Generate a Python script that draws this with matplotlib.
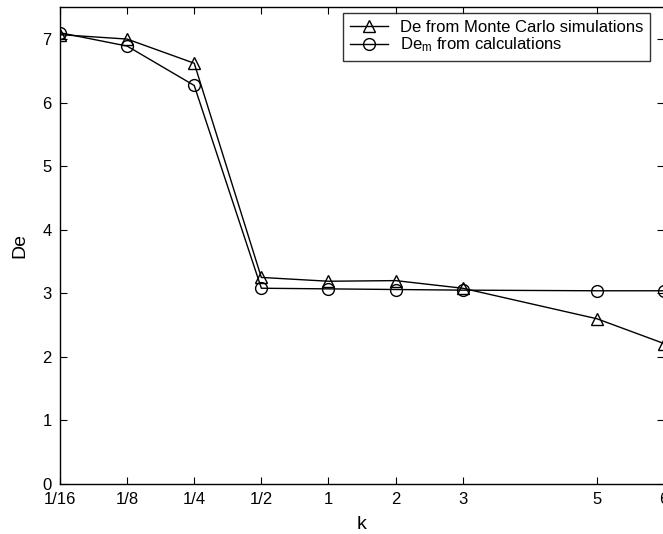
import matplotlib
matplotlib.use("Agg")
import matplotlib.pyplot as plt

plt.rcParams['font.family'] = ['Liberation Sans', 'DejaVu Sans']
plt.rcParams['mathtext.fontset'] = 'custom'
plt.rcParams['mathtext.rm'] = 'Liberation Sans'
plt.rcParams['mathtext.it'] = 'Liberation Sans'

k_labels = ['1/16', '1/8', '1/4', '1/2', '1', '2', '3', '5', '6']
k_pos = [0, 1, 2, 3, 4, 5, 6, 8, 9]
de_mc = [7.07, 7.00, 6.62, 3.25, 3.19, 3.20, 3.08, 2.60, 2.21]
de_calc = [7.10, 6.89, 6.27, 3.08, 3.07, 3.06, 3.05, 3.04, 3.04]
y_ticks = [0, 1, 2, 3, 4, 5, 6, 7]

fig = plt.figure(figsize=(6.63, 5.34), dpi=100)
ax = fig.add_axes([60/663, 50/534, 604/663, (484-7.3)/534])

ax.plot(k_pos, de_mc, color='black', lw=1.0, marker='^', ms=8.5, mfc='none',
        mec='black', mew=1.0, label='De from Monte Carlo simulations')
ax.plot(k_pos, de_calc, color='black', lw=1.0, marker='o', ms=8.5, mfc='none',
        mec='black', mew=1.0, label=r'De$_\mathrm{m}$ from calculations')

ax.set_xlim(0, 9)
ax.set_ylim(0, 7.5)
ax.set_xticks(k_pos)
ax.set_xticklabels(k_labels)
ax.set_yticks(y_ticks)
ax.tick_params(direction='in', length=5, width=0.8, top=True, right=True,
               labelsize=12, pad=6)
for s in ax.spines.values():
    s.set_linewidth(1.0)
    s.set_clip_on(False)

ax.set_xlabel('k', fontsize=14, labelpad=6)
ax.set_ylabel('De', fontsize=14, labelpad=10)

leg = ax.legend(loc='upper right', fontsize=12, frameon=True,
                fancybox=False, edgecolor='black', borderpad=0.4,
                labelspacing=0.05, handlelength=2.3, handletextpad=0.7,
                borderaxespad=0.0)
leg.get_frame().set_linewidth(1.0)
leg.set_bbox_to_anchor((650/663, 1 - 13/534), transform=fig.transFigure)

fig.savefig('out.png', dpi=100)
